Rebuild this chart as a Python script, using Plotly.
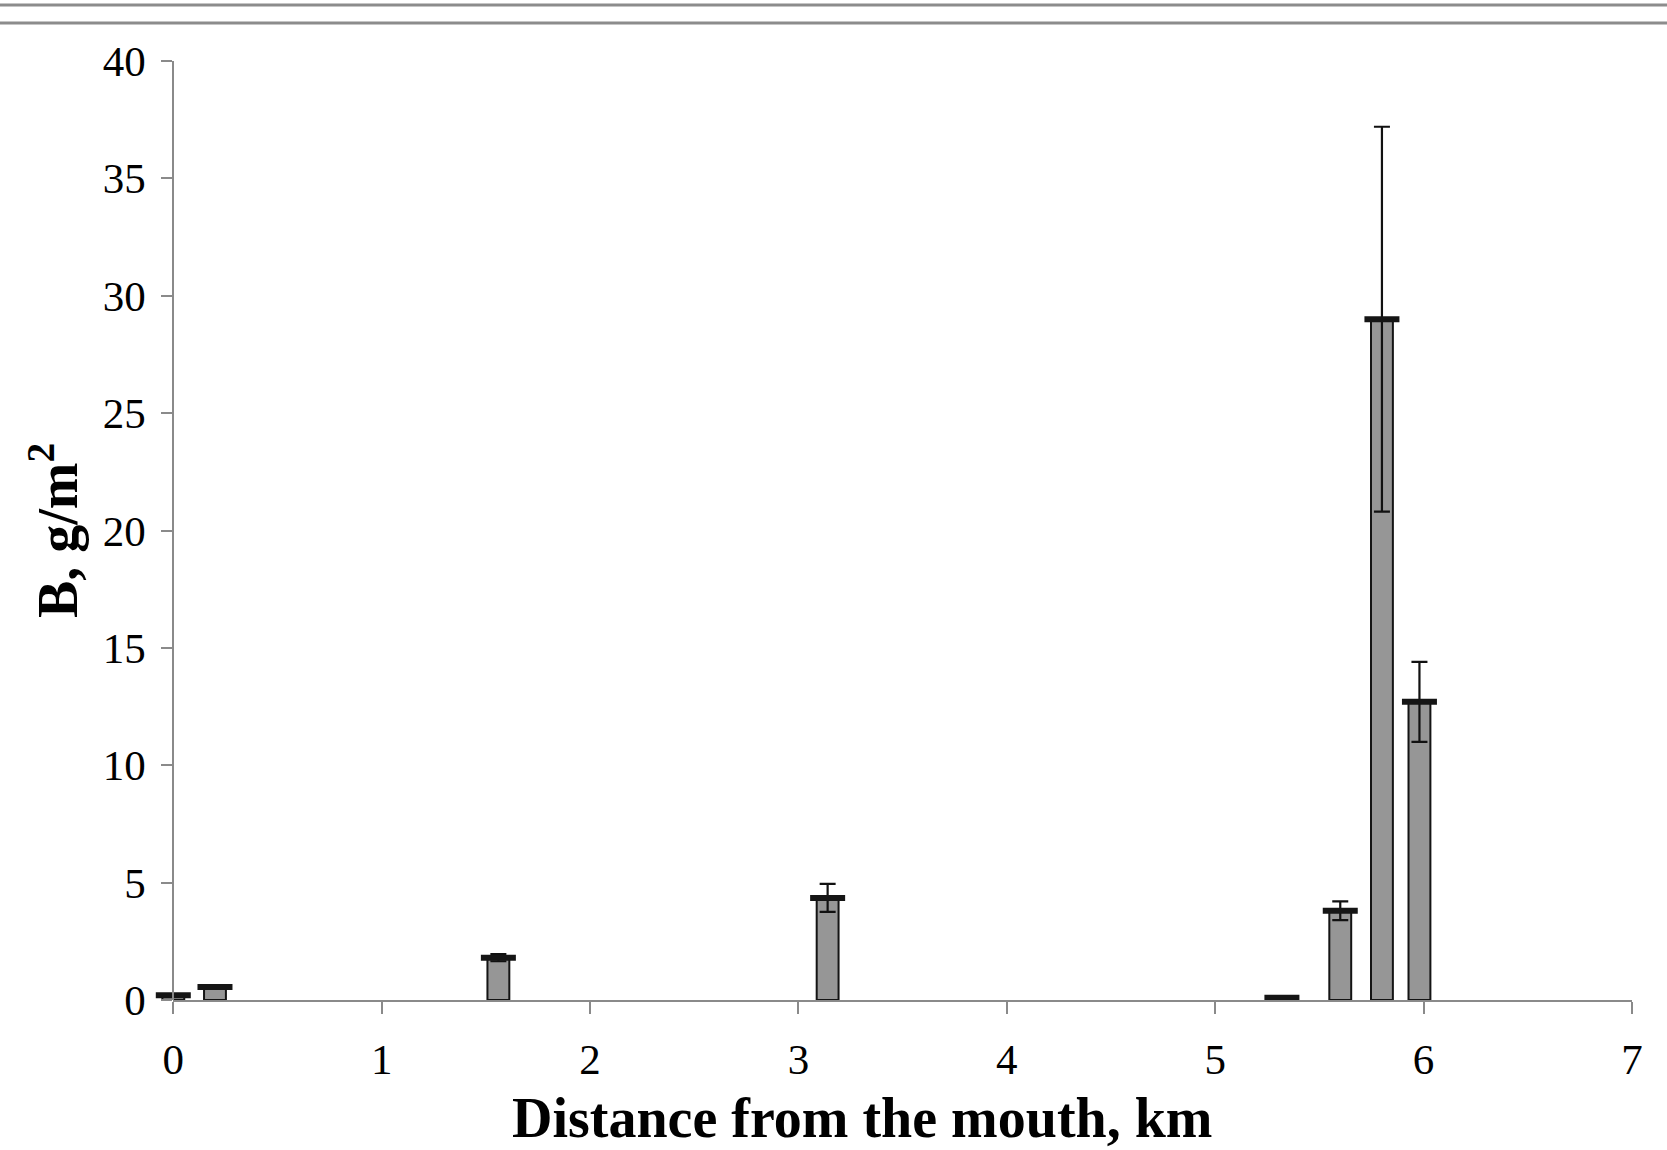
import plotly.graph_objects as go

# ---- data ----
distance_km = [0.0, 0.2, 1.56, 3.14, 5.32, 5.60, 5.80, 5.98]
biomass = [0.2, 0.55, 1.8, 4.35, 0.1, 3.8, 29.0, 12.7]
biomass_err = [0.05, 0.08, 0.15, 0.6, 0.05, 0.4, 8.2, 1.7]
x_ticks = [0, 1, 2, 3, 4, 5, 6, 7]
y_ticks = [0, 5, 10, 15, 20, 25, 30, 35, 40]

# ---- layout geometry ----
W_FIG, H_FIG = 1667, 1150
L, R, T, B = 150, 35, 61, 150
X0_PX, X7_PX = 173.3, 1632.0
plot_w = W_FIG - L - R
plot_h = H_FIG - T - B
px_per_km = (X7_PX - X0_PX) / 7.0
x_min = -(X0_PX - L) / px_per_km
d0 = (X0_PX - L) / plot_w

FONT = "Liberation Serif"
AX_COLOR = "#8a8a8a"

fig = go.Figure()

fig.add_trace(go.Bar(
    x=distance_km, y=biomass, width=0.105,
    marker=dict(color="#969696", line=dict(color="#141414", width=2)),
    error_y=dict(type="data", array=biomass_err, color="#111111", thickness=2.2, width=8),
    xaxis="x", yaxis="y", showlegend=False, hoverinfo="skip",
))

# dark cap at the top of each bar
fig.add_trace(go.Scatter(
    x=distance_km, y=biomass, mode="markers",
    marker=dict(symbol="line-ew", size=25, line=dict(color="#151515", width=6)),
    xaxis="x", yaxis="y", showlegend=False, hoverinfo="skip",
))

# invisible trace to bind the visible distance axis
fig.add_trace(go.Scatter(
    x=[x_ticks[0], x_ticks[-1]], y=[0, 0], mode="markers",
    marker=dict(opacity=0), xaxis="x2", yaxis="y",
    showlegend=False, hoverinfo="skip",
))

fig.update_layout(
    width=W_FIG, height=H_FIG,
    margin=dict(l=L, r=R, t=T, b=B),
    paper_bgcolor="white", plot_bgcolor="rgba(0,0,0,0)",
    font=dict(family=FONT, color="black"),
    xaxis=dict(domain=[0, 1], range=[x_min, 7], visible=False),
    xaxis2=dict(
        domain=[d0, 1], range=[0, 7], anchor="y",
        tickvals=x_ticks, ticktext=[str(v) for v in x_ticks],
        showline=True, linecolor=AX_COLOR, linewidth=2,
        ticks="outside", ticklen=12, tickwidth=2, tickcolor=AX_COLOR,
        showgrid=False, zeroline=False,
        tickfont=dict(family=FONT, size=43, color="black"),
        ticklabelstandoff=8,
    ),
    yaxis=dict(
        anchor="free", position=d0, domain=[0, 1], range=[0, 40],
        tickvals=y_ticks, ticktext=[str(v) for v in y_ticks],
        showline=True, linecolor=AX_COLOR, linewidth=2,
        ticks="outside", ticklen=11, tickwidth=2, tickcolor=AX_COLOR,
        showgrid=False, zeroline=False,
        tickfont=dict(family=FONT, size=43, color="black"),
        ticklabelstandoff=7,
        title=dict(text="<b>B, g/m<sup>2</sup></b>",
                   font=dict(family=FONT, size=56, color="black"), standoff=6),
    ),
    annotations=[
        dict(text="<b>Distance from the mouth, km</b>", xref="paper", yref="paper",
             x=(862 - L) / plot_w, y=(1000 - 1118) / plot_h,
             xanchor="center", yanchor="middle", showarrow=False,
             font=dict(family=FONT, size=56, color="black")),
    ],
    shapes=[
        dict(type="line", xref="paper", yref="paper", x0=-0.2, x1=1.2,
             y0=1 + (T - 5) / plot_h, y1=1 + (T - 5) / plot_h,
             line=dict(color="#8c8c8c", width=3)),
        dict(type="line", xref="paper", yref="paper", x0=-0.2, x1=1.2,
             y0=1 + (T - 23) / plot_h, y1=1 + (T - 23) / plot_h,
             line=dict(color="#8c8c8c", width=3)),
    ],
)

fig.write_html("out.html")
